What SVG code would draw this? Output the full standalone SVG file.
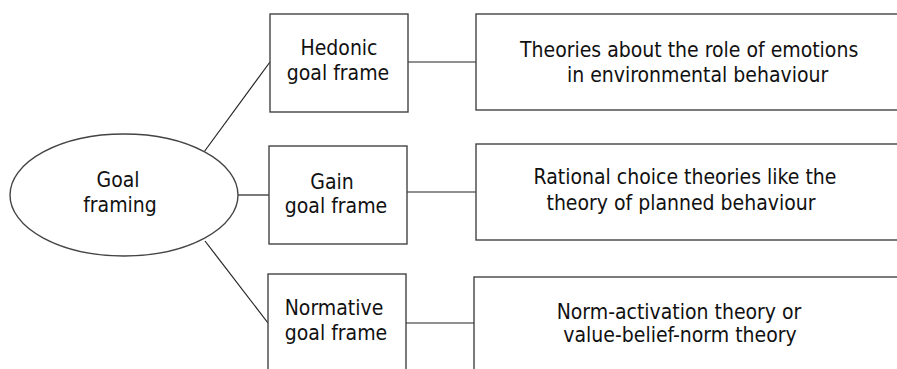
<svg xmlns="http://www.w3.org/2000/svg" width="897" height="369" viewBox="0 0 897 369">
<style>
.b{fill:#fff;stroke:#444;stroke-width:1.4}
.c{stroke:#222;stroke-width:1.2;fill:none}
text{font-family:"DejaVu Sans Condensed","DejaVu Sans",sans-serif;font-size:21px;fill:#111}
.m{text-anchor:middle}
</style>
<rect width="897" height="369" fill="#fff"/>
<g id="connectors">
<line class="c" x1="204" y1="152" x2="270" y2="62"/>
<line class="c" x1="238" y1="195" x2="269" y2="195"/>
<line class="c" x1="205" y1="241" x2="268" y2="323"/>
<line class="c" x1="408" y1="62" x2="476" y2="62"/>
<line class="c" x1="407" y1="192" x2="476" y2="192"/>
<line class="c" x1="406" y1="323" x2="474" y2="323"/>
</g>
<g id="goal-framing">
<ellipse class="b" cx="124" cy="195" rx="114" ry="61"/>
<text class="m" x="118" y="187">Goal</text>
<text class="m" x="120" y="212">framing</text>
</g>
<g id="hedonic">
<rect class="b" x="270" y="14" width="138" height="98"/>
<text class="m" x="339" y="55">Hedonic</text>
<text class="m" x="338" y="80">goal frame</text>
</g>
<g id="gain">
<rect class="b" x="269" y="146" width="138" height="98"/>
<text class="m" x="332" y="189">Gain</text>
<text class="m" x="336" y="213">goal frame</text>
</g>
<g id="normative">
<rect class="b" x="268" y="274" width="138" height="100"/>
<text class="m" x="334" y="315">Normative</text>
<text class="m" x="336" y="340">goal frame</text>
</g>
<g id="emotions">
<rect class="b" x="476" y="14" width="430" height="96"/>
<text x="520" y="57">Theories about the role of emotions</text>
<text x="567" y="82">in environmental behaviour</text>
</g>
<g id="rational">
<rect class="b" x="476" y="144" width="430" height="96"/>
<text class="m" x="685" y="184">Rational choice theories like the</text>
<text class="m" x="681" y="210">theory of planned behaviour</text>
</g>
<g id="norm">
<rect class="b" x="474" y="277" width="430" height="100"/>
<text class="m" x="679" y="319">Norm-activation theory or</text>
<text class="m" x="680" y="342">value-belief-norm theory</text>
</g>
</svg>
